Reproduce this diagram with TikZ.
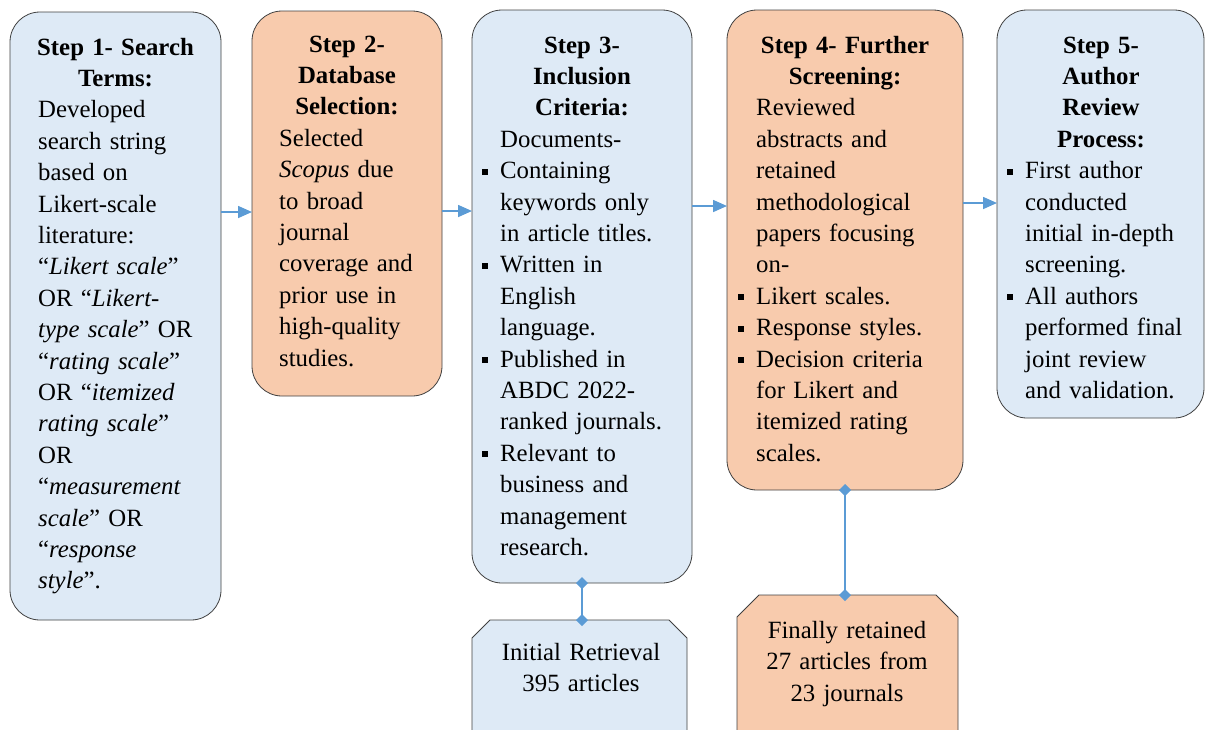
\documentclass[tikz,border=0pt]{standalone}
\usepackage{fontspec}
\setmainfont{LiberationSerif}[Extension=.ttf,UprightFont=*-Regular,BoldFont=*-Bold,ItalicFont=*-Italic,BoldItalicFont=*-BoldItalic]
\usetikzlibrary{arrows.meta,calc}
\definecolor{boxblue}{HTML}{DEEAF6}
\definecolor{boxorange}{HTML}{F8CBAD}
\definecolor{edgegray}{HTML}{404040}
\definecolor{linkblue}{HTML}{5B9BD5}
\newcommand\sqbul{\leavevmode\llap{\rule[4pt]{5.5pt}{6pt}\hspace{12.5pt}}}
\begin{document}
\begin{tikzpicture}[x=1pt,y=-1pt,
  stepbox/.style={draw=edgegray,line width=0.8pt,rounded corners=30pt,anchor=north west,inner sep=0pt,outer sep=0pt},
  endframe/.style={anchor=north west,inner sep=0pt,outer sep=0pt},
  endoutline/.style={draw=edgegray,line width=0.8pt},
  steptitle/.style={anchor=base,inner sep=0pt,text width=#1,align=center,font=\fontsize{24.8}{31.4}\selectfont\bfseries},
  stepbody/.style={anchor=base west,inner sep=0pt,text width=240pt,align=left,font=\fontsize{24.8}{31.4}\selectfont},
  endtext/.style={anchor=base,inner sep=0pt,text width=230pt,align=center,font=\fontsize{24.8}{31.6}\selectfont},
  flowarrow/.style={draw=linkblue,line width=1.6pt,-{Triangle[length=14pt,width=12pt]}},
  linkline/.style={draw=linkblue,line width=2pt,{Diamond[length=12pt,width=12pt]}-{Diamond[length=12pt,width=12pt]},shorten <=-6pt,shorten >=-6pt}
]
\useasboundingbox (0,0) rectangle (1205,729);

% step boxes
\node[stepbox,fill=boxblue,minimum width=211pt,minimum height=608pt] (b1) at (10,12) {};
\node[stepbox,fill=boxorange,minimum width=190pt,minimum height=385pt] (b2) at (252,11) {};
\node[stepbox,fill=boxblue,minimum width=220pt,minimum height=573pt] (b3) at (472,10) {};
\node[stepbox,fill=boxorange,minimum width=236pt,minimum height=480pt] (b4) at (727,10) {};
\node[stepbox,fill=boxblue,minimum width=207pt,minimum height=408pt] (b5) at (997,10) {};

% result boxes (frames, then chamfered outlines)
\node[endframe,minimum width=215pt,minimum height=112pt] (r3) at (472,620) {};
\node[endframe,minimum width=221pt,minimum height=137pt] (r4) at (737,595) {};
\filldraw[endoutline,fill=boxblue] (r3.south west) -- ([yshift=-18pt]r3.north west) -- ([xshift=18pt]r3.north west)
  -- ([xshift=-18pt]r3.north east) -- ([yshift=-18pt]r3.north east) -- (r3.south east) -- cycle;
\filldraw[endoutline,fill=boxorange] (r4.south west) -- ([yshift=-22pt]r4.north west) -- ([xshift=22pt]r4.north west)
  -- ([xshift=-22pt]r4.north east) -- ([yshift=-22pt]r4.north east) -- (r4.south east) -- cycle;

% texts step 1
\node[steptitle=200pt] (t1) at (115.5,55) {Step 1- Search\\Terms:};
\node[stepbody] (d1) at (38,117.8) {Developed\\search string\\based on\\Likert-scale\\literature:\\“\textit{Likert scale}”\\OR “\textit{Likert-}\\\textit{type scale}” OR\\“\textit{rating scale}”\\OR “\textit{itemized}\\\textit{rating scale}”\\OR\\“\textit{measurement}\\\textit{scale}” OR\\“\textit{response}\\\textit{style}”.};

% step 2
\node[steptitle=185pt] (t2) at (347,52) {Step 2-\\Database\\Selection:};
\node[stepbody] (d2) at (279,146.2) {Selected\\\textit{Scopus} due\\to broad\\journal\\coverage and\\prior use in\\high-quality\\studies.};

% step 3
\node[steptitle=210pt] (t3) at (582,53) {Step 3-\\Inclusion\\Criteria:};
\node[stepbody] (d3) at (500,147.2) {Documents-\\\sqbul Containing\\keywords only\\in article titles.\\\sqbul Written in\\English\\language.\\\sqbul Published in\\ABDC 2022-\\ranked journals.\\\sqbul Relevant to\\business and\\management\\research.};

% step 4
\node[steptitle=230pt] (t4) at (845,53) {Step 4- Further\\Screening:};
\node[stepbody] (d4) at (756,115.8) {Reviewed\\abstracts and\\retained\\methodological\\papers focusing\\on-\\\sqbul Likert scales.\\\sqbul Response styles.\\\sqbul Decision criteria\\for Likert and\\itemized rating\\scales.};

% step 5
\node[steptitle=200pt] (t5) at (1101,53) {Step 5-\\Author\\Review\\Process:};
\node[stepbody] (d5) at (1025,178.6) {\sqbul First author\\conducted\\initial in-depth\\screening.\\\sqbul All authors\\performed final\\joint review\\and validation.};

% result texts
\node[endtext] (e3) at (581,660) {Initial Retrieval\\395 articles};
\node[endtext] (e4) at (847,638) {Finally retained\\27 articles from\\23 journals};

% flow arrows
\coordinate (h12) at (0,212);
\coordinate (h23) at (0,211);
\coordinate (h34) at (0,206);
\coordinate (h45) at (0,203);
\draw[flowarrow] (b1.east |- h12) -- (b2.west |- h12);
\draw[flowarrow] (b2.east |- h23) -- (b3.west |- h23);
\draw[flowarrow] (b3.east |- h34) -- (b4.west |- h34);
\draw[flowarrow] (b4.east |- h45) -- (b5.west |- h45);

% links to results
\draw[linkline] (b3.south) -- (b3.south |- r3.north);
\draw[linkline] (b4.south) -- (b4.south |- r4.north);
\end{tikzpicture}
\end{document}
